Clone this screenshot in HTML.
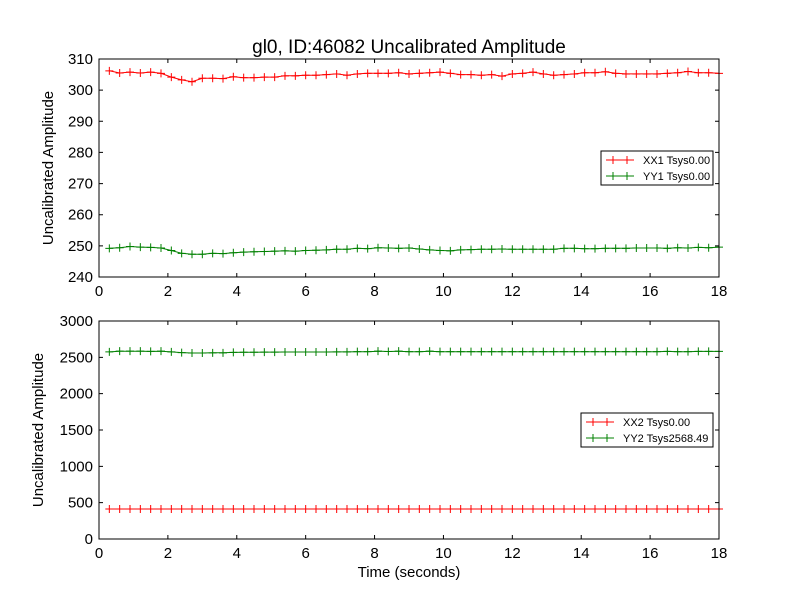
<!DOCTYPE html>
<html><head><meta charset="utf-8"><style>
body{margin:0;background:#fff;}
svg text{font-family:"Liberation Sans","DejaVu Sans",sans-serif;}
</style></head><body>
<svg id="chart" width="800" height="600" xmlns="http://www.w3.org/2000/svg">
<rect width="800" height="600" fill="#fff"/>
<text x="409" y="53" font-size="19" text-anchor="middle">gl0, ID:46082 Uncalibrated Amplitude</text>
<g id="p1"></g>
<g id="p2"></g>
<text x="409" y="577" font-size="15" text-anchor="middle">Time (seconds)</text>
</svg>
<script>
const xx1 = [306.2,305.5,305.8,305.5,305.8,305.4,304.2,303.3,302.7,303.8,303.8,303.7,304.3,304.0,304.0,304.2,304.2,304.6,304.6,304.8,304.8,305.0,305.2,304.8,305.2,305.4,305.4,305.4,305.6,305.2,305.4,305.6,305.8,305.4,305.0,305.0,304.8,305.0,304.5,305.2,305.4,305.8,305.2,304.8,305.0,305.2,305.6,305.6,305.9,305.4,305.2,305.2,305.2,305.2,305.4,305.6,306.0,305.6,305.6,305.4];
const yy1 = [249.2,249.4,249.8,249.6,249.5,249.3,248.5,247.6,247.3,247.3,247.6,247.5,247.8,248.0,248.1,248.2,248.3,248.4,248.3,248.5,248.6,248.7,248.9,248.9,249.2,249.1,249.4,249.3,249.2,249.3,249.0,248.7,248.5,248.4,248.7,248.8,248.9,248.9,249.0,248.9,248.9,248.9,248.9,248.9,249.2,249.2,249.1,249.1,249.2,249.2,249.2,249.3,249.3,249.3,249.2,249.4,249.3,249.5,249.4,249.6];
const xx2 = new Array(60).fill(413);
const yy2 = [2575,2585,2585,2585,2582,2585,2575,2565,2560,2560,2562,2562,2568,2570,2570,2572,2572,2573,2573,2573,2573,2573,2575,2575,2578,2578,2585,2580,2585,2578,2578,2585,2578,2578,2578,2578,2578,2578,2578,2578,2578,2578,2578,2578,2578,2578,2578,2578,2578,2578,2578,2578,2578,2578,2582,2578,2578,2582,2582,2582];
const times = xx1.map((_, i) => +(0.3 * (i + 1)).toFixed(2));
const xTicks = [0,2,4,6,8,10,12,14,16,18];
const yTicks1 = [240,250,260,270,280,290,300,310];
const yTicks2 = [0,500,1000,1500,2000,2500,3000];
const NS = "http://www.w3.org/2000/svg";
function mk(parent, tag, attrs){const e=document.createElementNS(NS,tag);for(const k in attrs)e.setAttribute(k,attrs[k]);parent.appendChild(e);return e;}
function panel(g, top, bottom, ymin, ymax, yTicks, series, legend, name){
  const L=99,R=719;
  const sx=v=>L+(v-0)/18*(R-L);
  const sy=v=>bottom-(v-ymin)/(ymax-ymin)*(bottom-top);
  series.forEach(s=>{
    const pts=times.map((t,i)=>sx(t).toFixed(1)+","+sy(s.vals[i]).toFixed(1)).join(" ");
    const pl=mk(g,"polyline",{points:pts,fill:"none",stroke:s.color,"stroke-width":1});
    
    
    times.forEach((t,i)=>{
      const x=sx(t),y=sy(s.vals[i]);
      const m=mk(g,"path",{d:`M${x-4},${y}H${x+4}M${x},${y-4}V${y+4}`,stroke:s.color,"stroke-width":1});
      
      
    });
  });
  const fr=mk(g,"rect",{x:L,y:top,width:R-L,height:bottom-top,fill:"none",stroke:"#000","stroke-width":1});
  
  
  xTicks.forEach(t=>{
    const x=sx(t);
    mk(g,"path",{d:`M${x},${bottom}v-4M${x},${top}v4`,stroke:"#000"});
    const tx=mk(g,"text",{x:x,y:bottom+19,"font-size":15,"text-anchor":"middle"});
    tx.textContent=t;
    
    
  });
  yTicks.forEach(t=>{
    const y=sy(t);
    mk(g,"path",{d:`M${L},${y}h4M${R},${y}h-4`,stroke:"#000"});
    const tx=mk(g,"text",{x:L-6,y:y+5,"font-size":15,"text-anchor":"end"});
    tx.textContent=t;
    
    
  });
  const yl=mk(g,"text",{x:0,y:0,"font-size":15,"text-anchor":"middle",transform:`translate(${legend.ylx},${(top+bottom)/2}) rotate(-90)`});
  yl.textContent="Uncalibrated Amplitude";
  
  
  const lg=mk(g,"g",{});
  
  
  mk(lg,"rect",{x:legend.x,y:legend.y,width:713-legend.x,height:34,fill:"#fff",stroke:"#000"});
  series.forEach((s,i)=>{
    const y=legend.y+9+i*16;
    mk(lg,"path",{d:`M${legend.x+5},${y}h28M${legend.x+12},${y-4}v8M${legend.x+26},${y-4}v8`,stroke:s.color});
    const tx=mk(lg,"text",{x:legend.x+42,y:y+4,"font-size":11});
    tx.textContent=s.label;
    
    
  });
}
panel(document.getElementById("p1"),59,277,240,310,yTicks1,
 [{vals:xx1,color:"#ff0000",name:"xx1",label:"XX1 Tsys0.00"},{vals:yy1,color:"#008000",name:"yy1",label:"YY1 Tsys0.00"}],
 {x:601,y:151,ylx:53},"top");
panel(document.getElementById("p2"),321,539,0,3000,yTicks2,
 [{vals:xx2,color:"#ff0000",name:"xx2",label:"XX2 Tsys0.00"},{vals:yy2,color:"#008000",name:"yy2",label:"YY2 Tsys2568.49"}],
 {x:581,y:413,ylx:43},"bottom");
</script>
</body></html>
